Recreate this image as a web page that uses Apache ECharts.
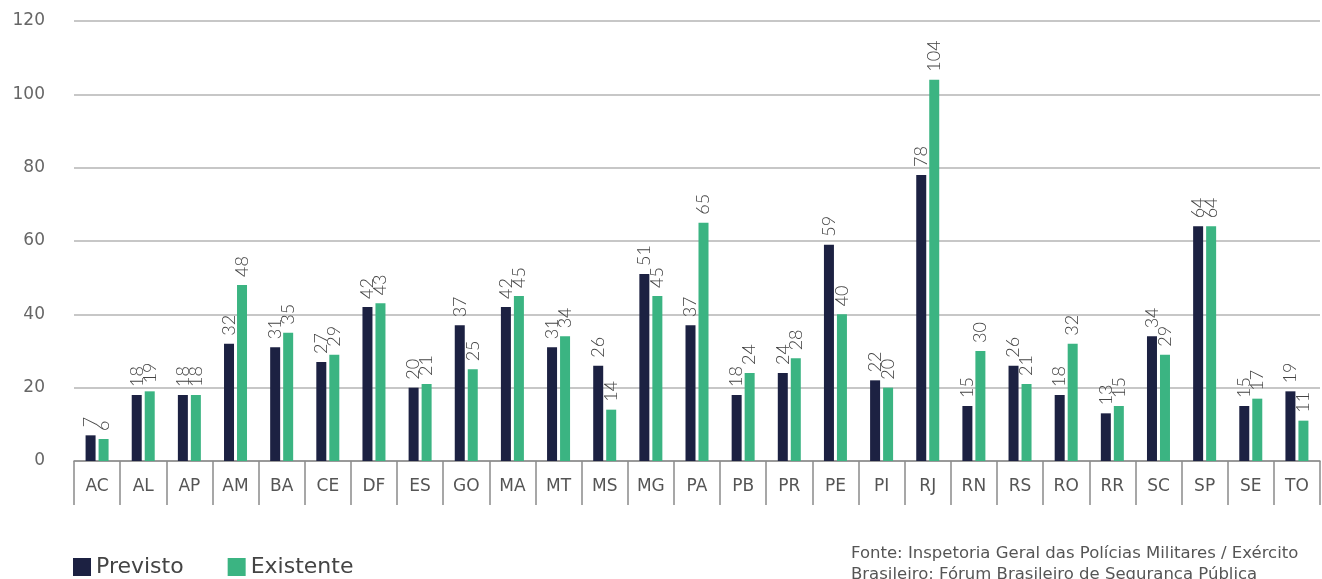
<!DOCTYPE html>
<html>
<head>
<meta charset="utf-8">
<script src="https://cdn.jsdelivr.net/npm/echarts@6/dist/echarts.min.js"></script>
<style>
  html, body { margin: 0; padding: 0; background: #fff; }
  #chart { width: 1322px; height: 579px; }
</style>
</head>
<body>
<div id="chart"></div>
<script>
// States (UF)
const states = ['AC','AL','AP','AM','BA','CE','DF','ES','GO','MA','MT','MS','MG','PA','PB','PR','PE','PI','RJ','RN','RS','RO','RR','SC','SP','SE','TO'];
// Planned headcount
const previsto = [7,18,18,32,31,27,42,20,37,42,31,26,51,37,18,24,59,22,78,15,26,18,13,34,64,15,19];
// Existing headcount
const existente = [6,19,18,48,35,29,43,21,25,45,34,14,45,65,24,28,40,20,104,30,21,32,15,29,64,17,11];
// Y-axis ticks
const yTicks = [0, 20, 40, 60, 80, 100, 120];

const FONT = '"DejaVu Sans", sans-serif';
const NAVY = '#1c2142';
const GREEN = '#3bb482';

// Vertical value labels above each bar
const labelStyle = {
  show: true,
  position: 'top',
  rotate: 90,
  align: 'left',
  verticalAlign: 'middle',
  distance: 6,
  offset: [2, 0],
  color: '#444',
  fontSize: 18,
  fontWeight: 300,
  fontFamily: 'Lato, sans-serif'
};

const chart = echarts.init(document.getElementById('chart'), null, { renderer: 'canvas' });
chart.setOption({
  animation: false,
  grid: { left: 74, right: 2, top: 21, bottom: 118, containLabel: false },
  legend: {
    left: 73,
    top: 556,
    padding: 0,
    itemWidth: 18,
    itemHeight: 18,
    itemGap: 44,
    icon: 'rect',
    textStyle: { color: '#444', fontSize: 22, fontFamily: FONT },
    data: ['Previsto', 'Existente']
  },
  xAxis: {
    type: 'category',
    data: states,
    axisLine: { show: true, lineStyle: { color: '#8a8a8a', width: 1.5 } },
    axisTick: { show: true, length: 44, lineStyle: { color: '#8a8a8a', width: 1.5 } },
    axisLabel: { color: '#555', fontSize: 17, fontFamily: FONT, margin: 17 }
  },
  yAxis: {
    type: 'value',
    min: yTicks[0],
    max: yTicks[yTicks.length - 1],
    interval: 20,
    axisLine: { show: false },
    axisTick: { show: false },
    axisLabel: { color: '#666', fontSize: 17, fontFamily: FONT, margin: 29 },
    splitLine: { lineStyle: { color: '#b5b5b5', width: 1.5 } }
  },
  series: [
    {
      name: 'Previsto',
      type: 'bar',
      data: previsto,
      barWidth: 10,
      barGap: '30%',
      itemStyle: { color: NAVY },
      label: labelStyle
    },
    {
      name: 'Existente',
      type: 'bar',
      data: existente,
      barWidth: 10,
      barGap: '30%',
      itemStyle: { color: GREEN },
      label: labelStyle
    }
  ],
  graphic: [
    {
      type: 'text',
      left: 851,
      top: 543,
      style: {
        text: 'Fonte: Inspetoria Geral das Polícias Militares / Exército\nBrasileiro; Fórum Brasileiro de Segurança Pública',
        fill: '#555',
        fontSize: 16.5,
        lineHeight: 21,
        fontFamily: FONT
      }
    }
  ]
});
</script>
</body>
</html>
